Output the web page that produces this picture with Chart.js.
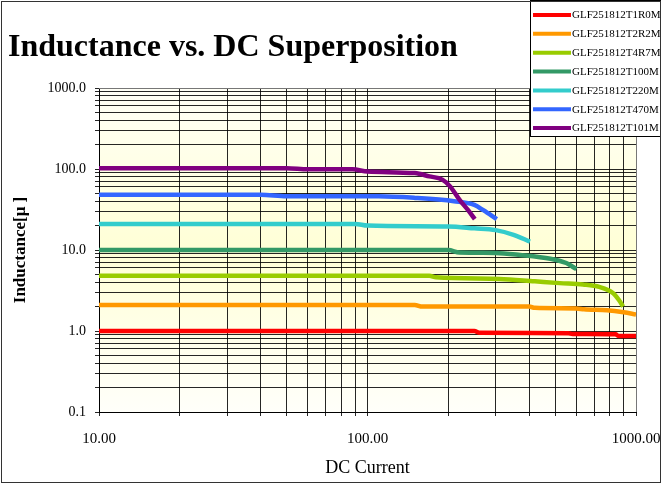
<!DOCTYPE html>
<html>
<head>
<meta charset="utf-8">
<script src="https://cdn.jsdelivr.net/npm/chart.js@4.4.1/dist/chart.umd.min.js"></script>
<style>
html,body{margin:0;padding:0;background:#fff;}
#wrap{width:662px;height:484px;position:relative;}
</style>
</head>
<body>
<div id="wrap"><canvas id="c" width="662" height="484"></canvas></div>
<script>
// ---- data (DC current in mA, inductance in µH) ----
const chartTitle = 'Inductance vs. DC Superposition';
const xAxisTitle = 'DC Current';
const yAxisTitle = 'Inductance[μ ]';
const seriesNames = ['GLF251812T1R0M','GLF251812T2R2M','GLF251812T4R7M','GLF251812T100M','GLF251812T220M','GLF251812T470M','GLF251812T101M'];
const seriesColors = ['#ff0000','#ff9900','#99cc00','#339966','#33cccc','#3366ff','#800080'];

const currentT1R0M   = [10, 250, 262, 560, 580, 840, 860, 1000];
const inductanceT1R0M= [1.0, 1.0, 0.95, 0.94, 0.92, 0.91, 0.87, 0.87];

const currentT2R2M   = [10, 150, 160, 400, 420, 600, 640, 780, 900, 1000];
const inductanceT2R2M= [2.1, 2.1, 2.0, 2.0, 1.93, 1.9, 1.85, 1.8, 1.7, 1.6];

const currentT4R7M   = [10, 170, 180, 310, 420, 520, 635, 730, 820, 865, 895];
const inductanceT4R7M= [4.8, 4.8, 4.6, 4.4, 4.1, 3.9, 3.75, 3.5, 2.95, 2.4, 2.0];

const currentT100M   = [10, 200, 220, 300, 370, 480, 550, 600];
const inductanceT100M= [10, 10, 9.3, 9.2, 8.7, 7.8, 6.9, 5.8];

const currentT220M   = [10, 90, 100, 200, 250, 300, 350, 403];
const inductanceT220M= [21, 21, 20, 19.5, 18.5, 17.6, 15.4, 12.7];

const currentT470M   = [10, 40, 50, 110, 150, 210, 250, 270, 303];
const inductanceT470M= [48, 48, 46, 46, 44, 40, 36, 31, 24];

const currentT101M   = [10, 50, 60, 88, 100, 150, 170, 190, 203, 221, 237, 251];
const inductanceT101M= [102, 102, 99, 99, 93, 89, 81, 74, 61, 41, 31, 24];

const xLabelValues = [10, 100, 1000];
const yLabelValues = [0.1, 1, 10, 100, 1000];

const seriesCurrents = [currentT1R0M, currentT2R2M, currentT4R7M, currentT100M, currentT220M, currentT470M, currentT101M];
const seriesInductances = [inductanceT1R0M, inductanceT2R2M, inductanceT4R7M, inductanceT100M, inductanceT220M, inductanceT470M, inductanceT101M];

function logGridValues(from, to) {
  const out = [];
  for (let d = from; d < to; d *= 10) {
    for (let k = 1; k <= 9; k++) out.push(+(d * k).toPrecision(6));
  }
  out.push(to);
  return out;
}

const datasets = seriesNames.map((name, i) => ({
  label: name,
  data: seriesCurrents[i].map((x, j) => ({ x: x, y: seriesInductances[i][j] })),
  borderColor: seriesColors[i],
  backgroundColor: seriesColors[i],
  borderWidth: 4.5,
  pointRadius: 0,
  fill: false,
  cubicInterpolationMode: 'monotone',
  order: seriesNames.length - i
}));

const SERIF = '"Liberation Serif", "Times New Roman", serif';

const decorPlugin = {
  id: 'decor',
  beforeDraw(chart) {
    const ctx = chart.ctx;
    const a = chart.chartArea;
    ctx.save();
    ctx.fillStyle = '#ffffff';
    ctx.fillRect(0, 0, chart.width, chart.height);
    const g = ctx.createLinearGradient(0, a.top, 0, a.bottom);
    g.addColorStop(0, '#fffff6');
    g.addColorStop(0.5, '#ffffd6');
    g.addColorStop(1, '#fffffa');
    ctx.fillStyle = g;
    ctx.fillRect(a.left, a.top, a.right - a.left, a.bottom - a.top);
    ctx.restore();
  },
  afterDraw(chart) {
    const ctx = chart.ctx;
    const a = chart.chartArea;
    ctx.save();
    // plot frame (top / right edges grey)
    ctx.strokeStyle = '#777';
    ctx.lineWidth = 1;
    ctx.beginPath();
    ctx.moveTo(a.left, Math.round(a.top) + 0.5);
    ctx.lineTo(Math.round(a.right) + 0.5, Math.round(a.top) + 0.5);
    ctx.lineTo(Math.round(a.right) + 0.5, a.bottom);
    ctx.stroke();
    // title
    ctx.fillStyle = '#000';
    ctx.font = 'bold 32px ' + SERIF;
    ctx.textAlign = 'left';
    ctx.textBaseline = 'alphabetic';
    ctx.fillText(chartTitle, 8, 56);
    // legend box
    const lx = 530, ly = 0, lw = 131, lh = 136;
    ctx.fillStyle = '#ffffff';
    ctx.fillRect(lx, ly, lw, lh);
    ctx.strokeStyle = '#000';
    ctx.lineWidth = 1;
    ctx.strokeRect(lx + 0.5, ly + 0.5, lw - 1, lh);
    ctx.font = '11px ' + SERIF;
    ctx.textBaseline = 'middle';
    chart.data.datasets.forEach((ds, i) => {
      const yy = 15 + i * 18.85;
      ctx.strokeStyle = ds.borderColor;
      ctx.lineWidth = 4;
      ctx.beginPath();
      ctx.moveTo(533, yy);
      ctx.lineTo(571, yy);
      ctx.stroke();
      ctx.fillStyle = '#000';
      ctx.fillText(ds.label, 572, yy + 0.5);
    });
    // outer border
    ctx.strokeStyle = '#333';
    ctx.lineWidth = 1;
    ctx.strokeRect(1.5, 1.5, 659, 481);
    ctx.restore();
  }
};

new Chart(document.getElementById('c'), {
  type: 'line',
  data: { datasets: datasets },
  options: {
    responsive: false,
    animation: false,
    devicePixelRatio: 1,
    layout: { padding: { top: 88, right: 26, left: 0, bottom: 0 } },
    plugins: { legend: { display: false }, title: { display: false }, tooltip: { enabled: false } },
    scales: {
      x: {
        type: 'logarithmic',
        position: 'bottom',
        min: 10, max: 1000,
        afterBuildTicks: (s) => { s.ticks = logGridValues(10, 1000).map(v => ({ value: v })); },
        afterFit: (s) => { s.height = 72; s.paddingLeft = 0; s.paddingRight = 0; },
        ticks: {
          autoSkip: false, maxRotation: 0, minRotation: 0,
          color: '#000', padding: 14,
          font: { family: SERIF, size: 15 },
          callback: (v) => xLabelValues.includes(v) ? v.toFixed(2) : ''
        },
        grid: { color: 'rgba(0,0,0,0.85)', lineWidth: 1, tickLength: 4, drawTicks: true },
        border: { display: true, color: '#000', width: 1 },
        title: { display: true, text: xAxisTitle, color: '#000', font: { family: SERIF, size: 18 }, padding: { top: 0, bottom: 5 } }
      },
      y: {
        type: 'logarithmic',
        position: 'left',
        min: 0.1, max: 1000,
        afterBuildTicks: (s) => { s.ticks = logGridValues(0.1, 1000).map(v => ({ value: v })); },
        afterFit: (s) => { s.width = 99; s.paddingTop = 0; s.paddingBottom = 0; },
        ticks: {
          autoSkip: false,
          color: '#000', padding: 9,
          font: { family: SERIF, size: 14 },
          callback: (v) => yLabelValues.includes(v) ? v.toFixed(1) : ''
        },
        grid: { color: 'rgba(0,0,0,0.85)', lineWidth: 1, tickLength: 4, drawTicks: true },
        border: { display: true, color: '#000', width: 1 },
        title: { display: true, text: yAxisTitle, color: '#000', font: { family: SERIF, size: 17, weight: 'bold' }, padding: { top: 10, bottom: 0 } }
      }
    }
  },
  plugins: [decorPlugin]
});
</script>
</body>
</html>
